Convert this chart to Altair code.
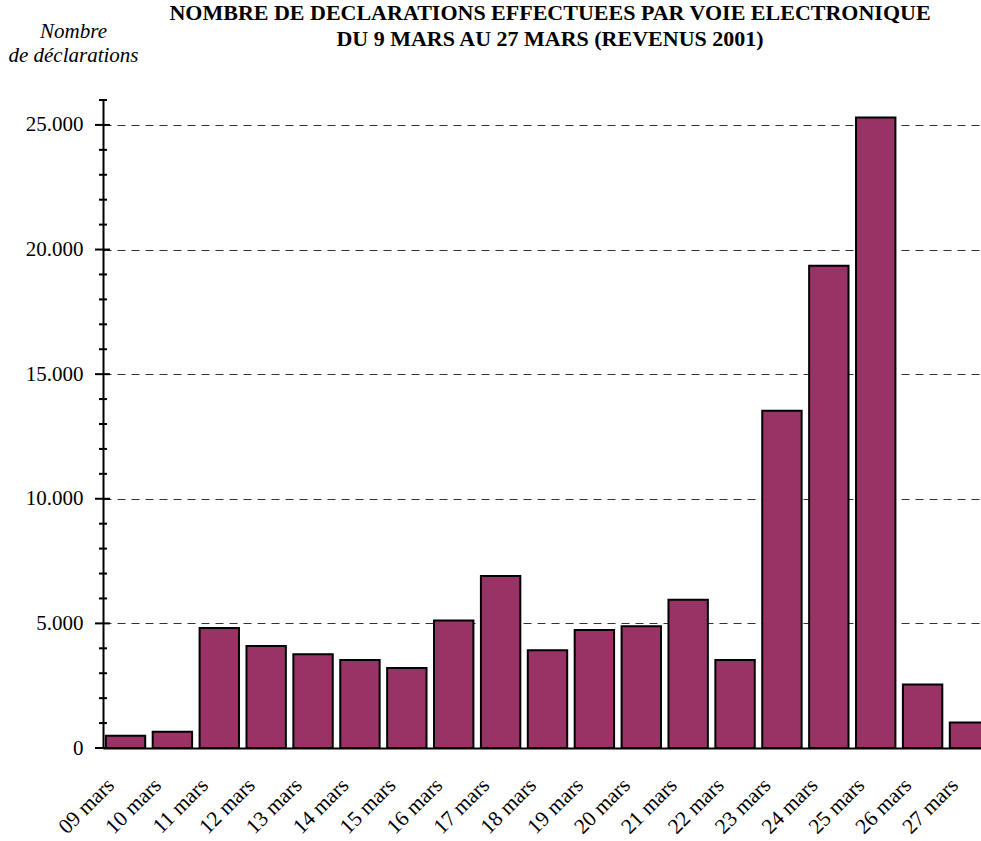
import altair as alt
import pandas as pd

days = ["09 mars", "10 mars", "11 mars", "12 mars", "13 mars", "14 mars", "15 mars",
        "16 mars", "17 mars", "18 mars", "19 mars", "20 mars", "21 mars", "22 mars",
        "23 mars", "24 mars", "25 mars", "26 mars", "27 mars"]
counts = [490, 650, 4810, 4090, 3760, 3530, 3210, 5120, 6900, 3920, 4730, 4890,
          5950, 3530, 13530, 19350, 25300, 2550, 1020]
major_ticks = [0, 5000, 10000, 15000, 20000, 25000]
minor_ticks = [1000, 2000, 3000, 4000, 6000, 7000, 8000, 9000, 11000, 12000, 13000, 14000,
               16000, 17000, 18000, 19000, 21000, 22000, 23000, 24000, 26000]
title_lines = ["NOMBRE DE DECLARATIONS EFFECTUEES PAR VOIE ELECTRONIQUE",
               "DU 9 MARS AU 27 MARS (REVENUS 2001)"]
y_title = ["Nombre", "de déclarations"]

FONT = "Liberation Serif"

df = pd.DataFrame({"jour": days, "n": counts})
major_df = pd.DataFrame({"v": major_ticks})
minor_df = pd.DataFrame({"v": minor_ticks})

yscale = alt.Scale(domain=[0, 26000], nice=False)

bars = alt.Chart(df).mark_bar(
    fill="#993366", stroke="black", strokeWidth=2, clip=True
).encode(
    x=alt.X("jour:N", sort=days,
            scale=alt.Scale(range=[0, 889], paddingInner=0.16, paddingOuter=0.06),
            axis=alt.Axis(title=None, labelAngle=-45, labelAlign="right",
                          labelBaseline="top", labelPadding=26, labelOffset=-22,
                          ticks=False, domainColor="black", domainWidth=2,
                          labelFont=FONT, labelFontSize=21.5, labelColor="black",
                          grid=False)),
    y=alt.Y("n:Q", scale=yscale,
            axis=alt.Axis(title=y_title, values=major_ticks,
                          labelExpr="replace(format(datum.value, ','), ',', '.')",
                          ticks=False, labelPadding=20, domainColor="black",
                          domainWidth=2, grid=True, gridDash=[8, 6],
                          gridColor="#333333", gridWidth=1,
                          labelFont=FONT, labelFontSize=21, labelColor="black",
                          titleAngle=0, titleX=-30, titleY=-63, titleAlign="center",
                          titleBaseline="alphabetic", titleFont=FONT,
                          titleFontStyle="italic", titleFontWeight="normal",
                          titleFontSize=21, titleLineHeight=24, titleColor="black")),
)

major = alt.Chart(major_df).mark_rule(color="black", strokeWidth=2).encode(
    y=alt.Y("v:Q", scale=yscale),
    x=alt.value(-8), x2=alt.value(7),
)
minor = alt.Chart(minor_df).mark_rule(color="black", strokeWidth=2).encode(
    y=alt.Y("v:Q", scale=yscale),
    x=alt.value(-4), x2=alt.value(4),
)

chart = alt.layer(bars, major, minor).properties(
    width=878, height=648,
    padding={"left": 103, "top": 100, "right": 0, "bottom": 93},
    autosize=alt.AutoSizeParams(type="none"),
    background="white",
    title=alt.TitleParams(title_lines, font=FONT, fontSize=22, fontWeight="bold",
                          color="black", anchor="middle", dx=8, offset=-31,
                          lineHeight=26),
).configure_view(strokeWidth=0)

chart.save("out.html", embed_options={"renderer": "svg", "actions": False})
